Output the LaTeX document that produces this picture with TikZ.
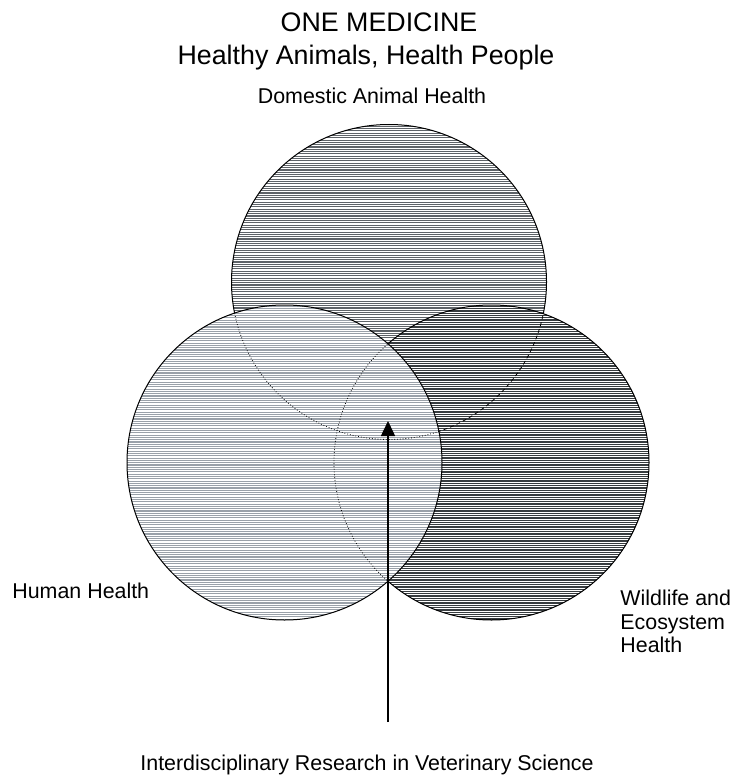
\documentclass[tikz,border=0pt]{standalone}
\usepackage{fontspec}
\setmainfont{Liberation Sans}
\usepackage{tikz}
\usetikzlibrary{arrows.meta,positioning}
\definecolor{DomGray}{HTML}{5E6368}
\definecolor{HumGray}{HTML}{9AA1A9}
\definecolor{WildGray}{HTML}{373C3F}
\newcommand{\vrad}{78.75pt}

\begin{document}
\begin{tikzpicture}[x=0.5pt,y=-0.5pt, every node/.style={inner sep=0pt}, head/.style={font=\fontsize{13.4}{16}\selectfont}, lbl/.style={font=\fontsize{10.7}{11.75}\selectfont}, rim/.style={draw=black,line width=0.5pt}, hid/.style={line width=0.4pt}, hatch/.style={line width=0.55pt}, arr/.style={-{Triangle[length=7.5pt,width=7pt]},line width=0.75pt}]
\useasboundingbox (0,0) rectangle (734,775);
\coordinate (dom) at (389,282);
\coordinate (hum) at (284.5,462.5);
\coordinate (wild) at (491.5,462.5);
% domestic animals, back
\fill[white] (dom) circle[radius=\vrad];
\begin{scope}
\clip (dom) circle[radius=\vrad];
\foreach \y in {124,126.3,...,442} \draw[hatch,DomGray] (220,\y) -- (560,\y);
\end{scope}
\draw[rim] (dom) circle[radius=\vrad];
% wildlife
\fill[white] (wild) circle[radius=\vrad];
\begin{scope}
\clip (wild) circle[radius=\vrad];
\foreach \y in {304,306.3,...,622} \draw[hatch,line width=0.65pt,WildGray] (320,\y) -- (660,\y);
\draw[hid,dash pattern=on 2pt off 1.5pt] (dom) circle[radius=\vrad];
\end{scope}
\draw[rim] (wild) circle[radius=\vrad];
% human, front
\fill[white] (hum) circle[radius=\vrad];
\begin{scope}
\clip (hum) circle[radius=\vrad];
\foreach \y in {304,306.3,...,622} \draw[hatch,HumGray] (110,\y) -- (450,\y);
\draw[hid,densely dotted] (dom) circle[radius=\vrad];
\draw[hid,densely dotted] (wild) circle[radius=\vrad];
\end{scope}
\draw[rim] (hum) circle[radius=\vrad];
\node[head,anchor=base] (title) at (379,32) {ONE MEDICINE};
\node[head,anchor=base] (motto) at (366,65) {Healthy Animals, Health People};
\node[lbl,anchor=base] (domlbl) at (372,104) {Domestic Animal Health};
\node[lbl,anchor=base west] (humlbl) at (12,598) {Human Health};
\node[lbl,anchor=north west,align=left] (wildlbl) at (620,590) {Wildlife and\\Ecosystem\\Health};
\node[lbl,anchor=base] (research) at (367,770) {Interdisciplinary Research in Veterinary Science};
\coordinate (tail) at (388,722);
\coordinate (tip) at (388,421);
\draw[arr] (tail) -- (tip);
\end{tikzpicture}
\end{document}
